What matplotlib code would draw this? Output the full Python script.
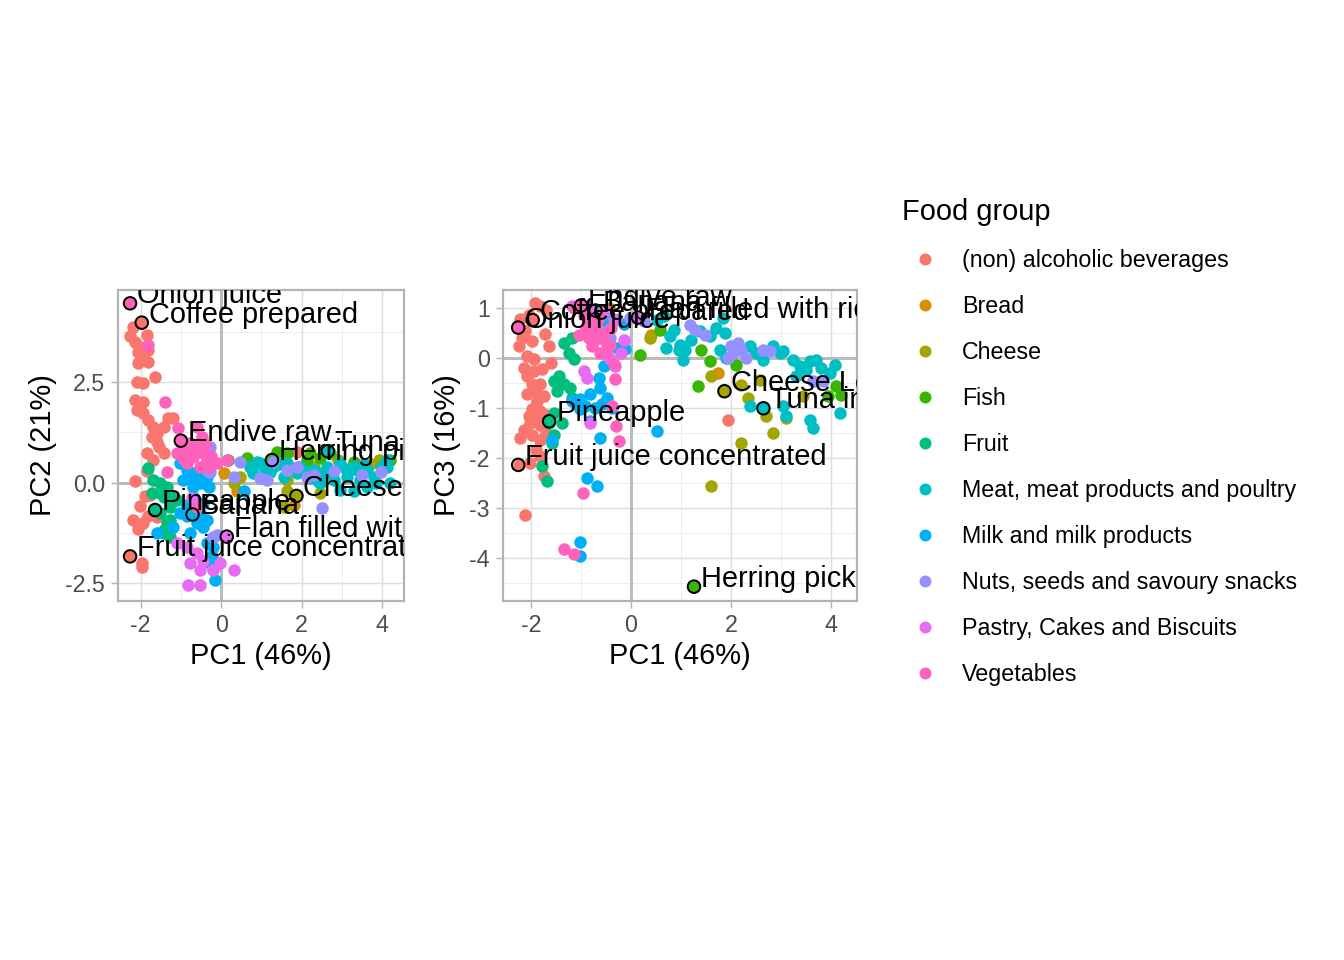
import matplotlib
matplotlib.use("Agg")
import matplotlib.pyplot as plt
from matplotlib.lines import Line2D
from matplotlib.ticker import MultipleLocator
import matplotlib.transforms as mtransforms

plt.rcParams['font.family'] = ['Liberation Sans', 'DejaVu Sans']
plt.rcParams['axes.unicode_minus'] = False

groups = ["(non) alcoholic beverages", "Bread", "Cheese", "Fish", "Fruit",
          "Meat, meat products and poultry", "Milk and milk products",
          "Nuts, seeds and savoury snacks", "Pastry, Cakes and Biscuits",
          "Vegetables"]
colors = ["#F8766D", "#D89000", "#A3A500", "#39B600", "#00BF7D",
          "#00BFC4", "#00B0F6", "#9590FF", "#E76BF3", "#FF62BC"]

# PC1 / PC2 scores
bev_12 = [(-2.18, 3.87), (-2.26, 3.64), (-2.14, 3.50), (-1.85, 3.66), (-2.01, 3.37),
          (-1.81, 3.29), (-2.06, 3.25), (-1.89, 3.04), (-2.06, 2.96), (-1.81, 3.00),
          (-1.64, 2.63), (-2.10, 2.50), (-1.93, 2.46), (-2.14, 2.05), (-1.93, 2.01),
          (-2.10, 1.80), (-1.93, 1.72), (-1.81, 1.55), (-1.68, 1.39), (-1.60, 1.22),
          (-1.43, 1.39), (-1.31, 1.60), (-1.19, 1.60), (-1.72, 1.14), (-1.60, 1.02),
          (-1.43, 0.73), (-1.85, 0.73), (-1.68, 0.56), (-2.14, 0.03), (-1.89, -0.34),
          (-2.01, -0.59), (-2.18, -0.92), (-1.93, -1.00), (-2.06, -1.16), (-1.81, -0.83),
          (-1.97, -1.99), (-1.97, -2.10), (-1.76, -0.30), (-1.60, -0.85), (-1.85, 0.30),
          (-1.55, 0.88), (1.88, 0.77), (-1.97, 3.97), (-2.26, -1.83)]
bread_12 = [(0.39, -0.22), (0.06, 0.23), (1.80, -0.55)]
cheese_12 = [(0.47, 0.15), (1.63, 0.07), (2.46, -0.26), (3.91, 0.56), (2.30, 0.40),
             (1.55, -0.60), (0.31, -0.02), (3.29, 0.40), (1.63, -0.21), (2.90, 0.55),
             (3.70, 0.45), (1.87, -0.33)]
fish_12 = [(0.18, 0.56), (0.64, 0.60), (1.38, 0.77), (1.63, 0.73), (2.13, 0.56),
           (2.46, 0.60), (2.71, 0.73), (4.20, 0.56), (3.29, 0.52), (2.21, 0.73),
           (1.26, 0.56)]
fruit_12 = [(-1.81, 0.36), (-1.68, 0.07), (-1.52, -0.02), (-1.35, -0.10), (-1.43, -0.35),
            (-1.27, -0.60), (-1.52, -0.76), (-1.27, -0.93), (-1.43, -1.17), (-1.27, -1.34),
            (-1.10, -0.43), (-1.72, -0.26), (-1.52, -0.26), (-1.27, -0.34), (-1.35, -1.00),
            (-1.43, -1.25), (-1.64, -0.68), (-0.71, -0.79)]
meat_12 = [(0.72, 0.40), (0.97, 0.48), (1.30, 0.40), (1.63, 0.48), (1.97, 0.40),
           (2.30, 0.31), (2.63, 0.40), (2.96, 0.48), (3.29, 0.40), (3.62, 0.31),
           (3.96, 0.40), (4.12, 0.40), (0.80, 0.23), (1.22, 0.27), (1.55, 0.15),
           (1.88, 0.23), (2.21, 0.11), (2.46, -0.02), (2.79, 0.07), (3.13, 0.15),
           (3.46, 0.07), (3.79, 0.15), (4.20, -0.02), (2.96, -0.18), (3.29, -0.22),
           (3.62, -0.10), (3.37, 0.31), (4.12, 0.56), (0.90, 0.50), (1.45, 0.45),
           (2.05, 0.28), (2.55, 0.25), (3.10, 0.35), (3.55, 0.45), (3.85, 0.00),
           (2.40, 0.05), (1.10, 0.35), (1.75, 0.35), (2.65, 0.78)]
milk_12 = [(-1.02, 0.48), (-0.85, 0.31), (-0.69, 0.23), (-0.48, 0.15), (-0.36, 0.15),
           (-0.94, 0.07), (-0.69, -0.10), (-0.44, -0.02), (0.56, -0.22), (-1.02, -0.76),
           (-0.85, -0.84), (-0.52, -0.76), (-0.36, -0.93), (-0.77, -1.26), (-0.44, -1.09),
           (-0.36, -1.50), (-0.19, -1.59), (-0.27, -2.00), (-0.15, -2.41), (-1.60, -1.26),
           (-1.19, -1.09), (-0.23, -1.83), (-0.69, -0.35), (-0.60, -1.00), (-0.55, 0.00),
           (-0.80, 0.10), (-0.30, -0.10), (-0.85, -0.55), (-0.45, -0.50)]
nuts_12 = [(-0.27, 0.89), (-0.27, 0.27), (0.31, 0.15), (0.47, 0.52), (0.97, 0.11),
           (1.14, 0.07), (1.63, 0.31), (1.88, 0.40), (2.13, 0.15), (2.50, -0.64),
           (-0.19, -1.34), (3.96, 0.27), (1.30, 0.52), (-0.32, 0.28), (-0.11, -1.29),
           (2.80, 0.30), (3.50, 0.20), (2.30, 0.20)]
pastry_12 = [(-1.10, -1.50), (-0.85, -1.59), (-0.61, -1.75), (-0.77, -2.00), (-0.52, -2.17),
             (-0.02, -2.00), (0.31, -2.17), (-0.81, -2.54), (-0.52, -2.54), (-0.19, -2.17),
             (-0.73, -0.38), (-0.45, -1.95), (0.14, -1.34)]
veg_12 = [(-1.81, 3.41), (-1.39, 2.01), (-1.06, 1.36), (-0.60, 1.39), (-1.10, 0.73),
          (-0.85, 0.81), (-0.61, 0.89), (-0.44, 0.73), (-0.69, 0.64), (-0.36, 0.56),
          (-0.11, 0.48), (-0.85, 0.48), (-0.52, 0.40), (-1.35, 0.27), (0.14, 0.56),
          (-0.77, 0.98), (-0.48, 1.14), (-0.95, 0.60), (-0.25, 0.65), (-0.60, -0.60),
          (-0.70, 0.80), (-0.40, 0.95), (-0.95, 0.95), (-0.30, 0.40),
          (-2.26, 4.45), (-1.00, 1.04)]

# PC1 / PC3 scores
bev_13 = [(-1.92, 1.10), (-1.82, 1.03), (-2.22, 0.77), (-2.12, 0.53), (-1.99, 0.33),
          (-2.25, 0.23), (-1.65, 0.23), (-1.72, 0.47), (-2.09, 0.03), (-1.95, -0.03),
          (-2.15, -0.20), (-1.95, -0.27), (-1.79, -0.23), (-2.09, -0.37), (-1.99, -0.53),
          (-1.82, -0.53), (-1.92, -0.67), (-2.09, -0.73), (-1.75, -0.77), (-1.89, -0.87),
          (-1.99, -1.03), (-1.82, -1.07), (-2.05, -1.17), (-1.89, -1.23), (-2.02, -1.31),
          (-1.82, -1.34), (-2.22, -1.61), (-1.99, -1.54), (-1.82, -1.64), (-2.02, -2.11),
          (-1.82, -1.97), (-1.75, -2.37), (-2.12, -3.14), (1.95, -1.24), (-2.05, 0.85),
          (-1.70, 0.95), (-2.18, 0.40), (-1.60, -0.10), (-1.70, -1.15), (-2.15, -1.45),
          (-1.90, -1.85), (-1.70, -1.50), (-1.97, 0.75), (-2.25, -2.14)]
bread_13 = [(0.40, 0.45), (-0.45, 1.00), (1.75, -0.30)]
cheese_13 = [(0.38, 0.39), (1.61, -0.37), (1.61, -2.57), (2.21, -1.71), (2.35, -0.81),
             (2.71, -1.17), (2.85, -1.51), (3.11, -1.21), (3.45, -0.77), (2.58, -0.44),
             (2.21, -0.54), (1.87, -0.67)]
fish_13 = [(0.18, 0.06), (0.58, 0.56), (1.41, 0.16), (1.58, -0.07), (1.35, -0.56),
           (2.11, -0.14), (2.65, 0.09), (4.11, -0.57), (4.21, -0.74), (3.95, -0.77),
           (1.26, -4.57)]
fruit_13 = [(-1.35, 0.30), (-1.19, 0.40), (-1.25, 0.10), (-1.15, -0.03), (-1.45, -0.37),
            (-1.55, -0.47), (-1.35, -0.53), (-1.22, -0.60), (-1.49, -0.67), (-1.19, -0.80),
            (-1.55, -1.10), (-1.65, -1.31), (-1.39, -1.31), (-1.55, -1.54), (-1.59, -1.71),
            (-1.79, -2.17), (-1.69, -2.47), (-1.64, -1.27), (-0.71, 0.94)]
meat_13 = [(0.65, 0.83), (0.78, 0.43), (0.98, 0.26), (0.95, 0.16), (1.08, 0.16),
           (1.05, -0.04), (1.58, 0.43), (1.71, 0.59), (1.88, 0.49), (1.78, 0.16),
           (1.91, -0.01), (2.38, 0.23), (2.51, 0.09), (2.65, -0.04), (2.85, 0.23),
           (3.05, 0.13), (3.25, -0.04), (3.38, -0.17), (3.58, -0.07), (3.71, -0.04),
           (3.81, -0.21), (4.08, -0.14), (4.18, -1.11), (3.58, -1.24), (3.65, -1.41),
           (3.11, -1.17), (3.05, -0.97), (2.38, -0.97), (2.98, 0.09), (3.51, -0.24),
           (3.98, -0.31), (1.85, 0.79), (1.38, 0.53), (0.85, 0.56), (0.51, 0.76),
           (3.31, -0.37), (1.20, 0.35), (0.70, 0.20), (2.65, -1.01)]
milk_13 = [(-0.55, 0.73), (-0.29, 0.20), (-0.12, 0.17), (-0.55, -0.17), (-0.65, -0.40),
           (-0.62, -0.60), (-0.82, -0.73), (-1.02, -0.83), (-1.19, -0.87), (-0.49, -0.80),
           (-0.92, -0.97), (-0.72, -1.00), (-1.02, -1.03), (-0.59, -0.93), (-0.39, -1.00),
           (-0.82, -1.27), (-1.59, -1.64), (-0.62, -1.61), (0.51, -1.47), (-0.89, -2.41),
           (-0.69, -2.57), (-1.03, -3.67), (-1.02, -3.96), (-0.45, 0.73), (-0.15, 0.67)]
nuts_13 = [(1.18, 0.66), (1.28, 0.56), (1.48, 0.46), (2.01, 0.23), (2.05, 0.09),
           (2.15, 0.29), (2.21, 0.16), (1.95, -0.01), (2.31, -0.01), (2.65, 0.16),
           (2.78, 0.13), (3.65, -0.47), (3.85, -0.47), (-0.02, 0.79), (0.25, 0.73),
           (-0.42, 0.39), (-0.45, 0.40), (-0.35, 0.77)]
pastry_13 = [(-0.42, -0.03), (-0.32, -0.17), (-0.95, -0.27), (-0.89, -0.40), (-1.19, 1.03),
             (-1.02, 1.07), (-0.82, -1.31), (-0.85, 0.95), (-0.60, 0.85), (-0.30, 0.75),
             (-0.20, 0.10), (-0.55, 0.95), (-0.45, 0.55), (-0.15, 0.35), (0.14, 0.80)]
veg_13 = [(-1.15, 1.00), (-0.85, 0.77), (-0.75, 0.53), (-0.62, 0.40), (-0.49, 0.27),
          (-0.79, 0.23), (-0.85, 0.40), (-0.35, -0.13), (-0.62, 0.10), (-0.32, -0.43),
          (-0.30, -1.37), (-0.25, -1.67), (-0.97, -2.71), (-1.35, -3.81), (-1.14, -3.91),
          (-0.42, 0.26), (-0.39, -0.97), (-0.95, 0.85), (-0.70, 0.65), (-0.55, 0.50),
          (-0.90, 0.60), (-0.65, 0.80), (-0.40, 0.60), (-1.05, 0.45), (-0.75, 0.35),
          (-0.50, 0.10), (-2.26, 0.60), (-1.00, 1.04)]

scores_12 = [bev_12, bread_12, cheese_12, fish_12, fruit_12, meat_12, milk_12,
             nuts_12, pastry_12, veg_12]
scores_13 = [bev_13, bread_13, cheese_13, fish_13, fruit_13, meat_13, milk_13,
             nuts_13, pastry_13, veg_13]

# labelled foods
hl_names = ["Onion juice", "Coffee prepared", "Endive raw", "Tuna in oil",
            "Herring pickled", "Cheese Leerdammer", "Pineapple", "Banana",
            "Flan filled with rice", "Fruit juice concentrated"]
hl_pc1 = [-2.26, -1.97, -1.00, 2.65, 1.26, 1.87, -1.64, -0.71, 0.14, -2.26]
hl_pc2 = [4.45, 3.97, 1.04, 0.78, 0.56, -0.33, -0.68, -0.79, -1.34, -1.83]
hl_pc3 = [0.60, 0.75, 1.04, -1.01, -4.57, -0.67, -1.27, 0.94, 0.80, -2.14]

PX = 0.72  # points per pixel at dpi 100


def draw_panel(ax, scores, hl_y, xlim, ylim, ymajor, yfmt, ylabel):
    ax.set_xlim(*xlim)
    ax.set_ylim(*ylim)
    ax.xaxis.set_major_locator(MultipleLocator(2))
    ax.xaxis.set_minor_locator(MultipleLocator(1))
    ax.yaxis.set_major_locator(MultipleLocator(ymajor))
    ax.yaxis.set_minor_locator(MultipleLocator(ymajor / 2))
    ax.yaxis.set_major_formatter(yfmt)
    ax.grid(which='major', color='#DEDEDE', lw=1.45 * PX, zorder=0)
    ax.grid(which='minor', color='#E8E8E8', lw=0.75 * PX, zorder=0)
    ax.set_axisbelow(True)
    ax.axhline(0, color='#BBBBBB', lw=3.0 * PX, zorder=1)
    ax.axvline(0, color='#BBBBBB', lw=3.0 * PX, zorder=1)
    for pts, col in zip(scores, colors):
        xs = [p[0] for p in pts]
        ys = [p[1] for p in pts]
        ax.scatter(xs, ys, s=(12.5 * PX) ** 2, color=col, lw=0, zorder=2)
    ax.scatter(hl_pc1, hl_y, s=(12.5 * PX) ** 2, facecolor='none',
               edgecolor='black', lw=2.0 * PX, zorder=3)
    off = mtransforms.offset_copy(ax.transData, fig=ax.figure, x=7, y=0, units='dots')
    for name, x, y in zip(hl_names, hl_pc1, hl_y):
        ax.text(x, y, name, transform=off, fontsize=29 * PX, ha='left',
                va='baseline', color='black', clip_on=True, zorder=4)
    for sp in ax.spines.values():
        sp.set_color('#B3B3B3')
        sp.set_linewidth(2.2 * PX)
    ax.tick_params(which='major', length=7.3 * PX, width=1.45 * PX, color='#B3B3B3',
                   labelcolor='#4D4D4D', labelsize=23.2 * PX, pad=5.5 * PX)
    ax.tick_params(which='minor', length=0)
    ax.set_xlabel('PC1 (46%)', fontsize=29 * PX, labelpad=6 * PX)
    ax.set_ylabel(ylabel, fontsize=29 * PX, labelpad=8 * PX)


fig = plt.figure(figsize=(13.44, 9.6), dpi=100)
ax1 = fig.add_axes([118 / 1344, 1 - 600.7 / 960, 286 / 1344, 310.7 / 960])
ax2 = fig.add_axes([502.7 / 1344, 1 - 600.7 / 960, 354.6 / 1344, 310.7 / 960])

draw_panel(ax1, scores_12, hl_pc2, (-2.56, 4.54), (-2.93, 4.78), 2.5,
           lambda v, p: f'{v:.1f}', 'PC2 (21%)')
draw_panel(ax2, scores_13, hl_pc3, (-2.57, 4.53), (-4.85, 1.35), 1,
           lambda v, p: f'{v:.0f}', 'PC3 (16%)')

handles = [Line2D([], [], ls='none', marker='o', ms=12 * PX, mfc=c, mec='none')
           for c in colors]
leg = fig.legend(handles, groups, title='Food group', loc='upper left',
                 bbox_to_anchor=(902 / 1344, 1 - 198 / 960), frameon=False,
                 fontsize=23.2 * PX, title_fontsize=29 * PX, alignment='left',
                 borderpad=0, borderaxespad=0, handlelength=2.0,
                 handletextpad=0.59, labelspacing=0.99)

fig.savefig('out.png', dpi=100, facecolor='white')
